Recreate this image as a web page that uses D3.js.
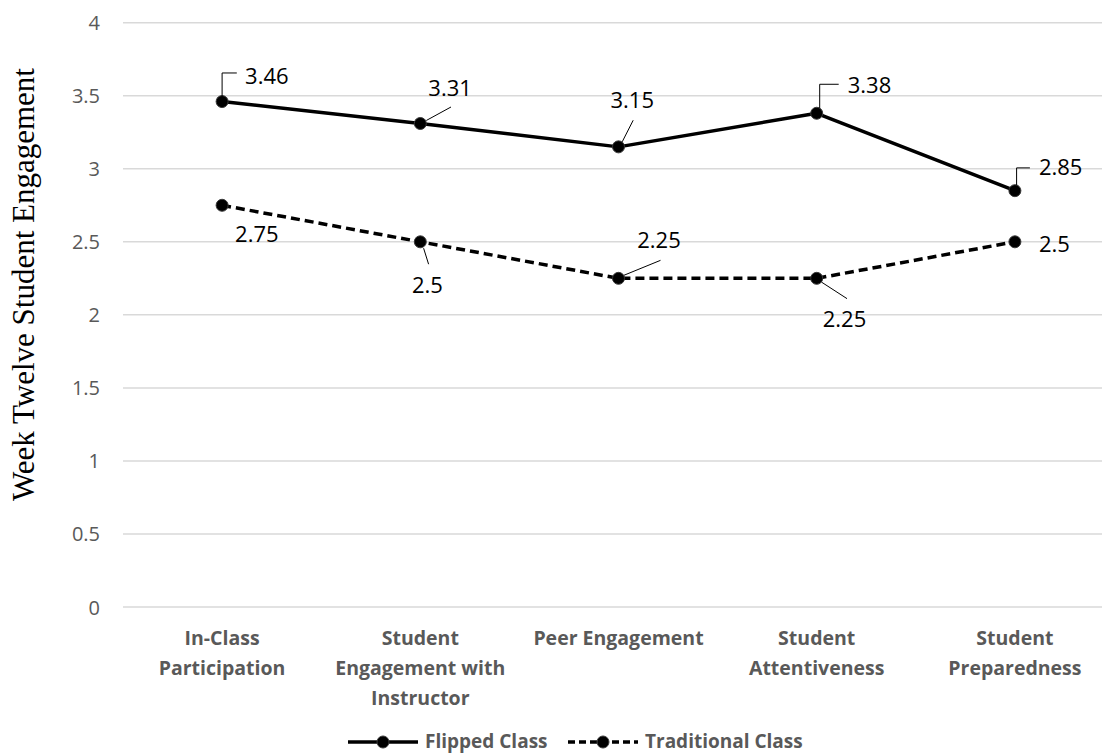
<!DOCTYPE html>
<html><head><meta charset="utf-8">
<script src="https://cdn.jsdelivr.net/npm/d3@7"></script>
<style>body{margin:0;background:#fff}svg{display:block}</style>
</head><body>
<svg id="chart" width="1102" height="755"></svg>
<script>
const categories = [["In-Class","Participation"],["Student","Engagement with","Instructor"],["Peer Engagement"],["Student","Attentiveness"],["Student","Preparedness"]];
const flipped = [3.46, 3.31, 3.15, 3.38, 2.85];
const traditional = [2.75, 2.5, 2.25, 2.25, 2.5];
const yTicks = [0, 0.5, 1, 1.5, 2, 2.5, 3, 3.5, 4];
const seriesNames = ["Flipped Class", "Traditional Class"];
const yTitle = "Week Twelve Student Engagement";

// label layout (offsets from the point), kept apart from the data
const flippedLabelLayout = [
  {dx:23, dy:-18, leader:[[0,-5],[0,-28.6],[14.7,-28.6]]},
  {dx:8, dy:-27, leader:[[6,-3],[30.7,-16.5]]},
  {dx:-8, dy:-38.6, leader:[[3.7,-5],[14.7,-26.6]]},
  {dx:31, dy:-20, leader:[[3,-5],[3,-29],[22,-29]]},
  {dx:24, dy:-15.5, leader:[[1.7,-5.5],[1.7,-22.8],[15,-22.8]]}
];
const tradLabelLayout = [
  {dx:13, dy:36.7, leader:null},
  {dx:-8.3, dy:51.4, leader:[[3.3,6.4],[8.3,22.4]]},
  {dx:18.7, dy:-30, leader:[[5.3,-3],[42,-18]]},
  {dx:6, dy:48.7, leader:[[4.7,3.7],[30.3,20.3]]},
  {dx:24, dy:10, leader:null}
];

const svg = d3.select("#chart");
const x = d3.scaleBand().domain(d3.range(categories.length)).range([123, 1114]);
const y = d3.scaleLinear().domain([0, 4]).range([607, 22.7]);
const cx = i => x(i) + x.bandwidth()/2;

// gridlines
svg.append("g").selectAll("line").data(yTicks).join("line")
  .attr("x1", 123).attr("x2", 1114)
  .attr("y1", d => y(d)).attr("y2", d => y(d))
  .attr("stroke", "#d9d9d9").attr("stroke-width", 1.5);

// y axis tick labels via axis
const yAxis = d3.axisLeft(y).tickValues(yTicks).tickFormat(d3.format("")).tickSize(0).tickPadding(0);
const gy = svg.append("g").attr("transform", "translate(100,0)").call(yAxis);
gy.select(".domain").remove();
gy.selectAll("text").attr("font-family", "'Open Sans', sans-serif").attr("font-size", 20)
  .attr("fill", "#595959").attr("text-anchor", "end").attr("dy", "0.35em");

// category labels
const gx = svg.append("g");
categories.forEach((lines, i) => {
  const t = gx.append("text").attr("text-anchor", "middle")
    .attr("font-family", "'Open Sans', sans-serif").attr("font-weight", "bold")
    .attr("font-size", 19.5).attr("fill", "#595959");
  lines.forEach((ln, j) => t.append("tspan").attr("x", cx(i)).attr("y", 645 + j*30).text(ln));
});

// y title
svg.append("text").attr("transform", "translate(34,284.5) rotate(-90)")
  .attr("text-anchor", "middle").attr("font-family", "'Liberation Serif', 'Times New Roman', serif")
  .attr("font-size", 31).attr("fill", "#000").text(yTitle);

const line = d3.line().x((d, i) => cx(i)).y(d => y(d));
function drawSeries(vals, dash, layout) {
  const g = svg.append("g");
  g.append("path").datum(vals).attr("d", line).attr("fill", "none")
    .attr("stroke", "#000").attr("stroke-width", 3.5)
    .attr("stroke-dasharray", dash).attr("stroke-linejoin", "round");
  g.selectAll("circle").data(vals).join("circle")
    .attr("cx", (d, i) => cx(i)).attr("cy", d => y(d)).attr("r", 6)
    .attr("fill", "#000").attr("stroke", "#3a3a3a").attr("stroke-width", 1);
  vals.forEach((v, i) => {
    const px = cx(i), py = y(v), L = layout[i];
    if (L.leader) {
      g.append("polyline").attr("points", L.leader.map(p => [px + p[0], py + p[1]].join(",")).join(" "))
        .attr("fill", "none").attr("stroke", "#000").attr("stroke-width", 1);
    }
    g.append("text").attr("x", px + L.dx).attr("y", py + L.dy)
      .attr("font-family", "'Open Sans', sans-serif").attr("font-size", 22)
      .attr("fill", "#000").text(String(v));
  });
}
drawSeries(flipped, null, flippedLabelLayout);
drawSeries(traditional, "9,5", tradLabelLayout);

// legend
const legend = svg.append("g");
const legendItems = [
  {name: seriesNames[0], dash: null, x0: 348},
  {name: seriesNames[1], dash: "7,4", x0: 568}
];
legendItems.forEach(it => {
  legend.append("line").attr("x1", it.x0).attr("x2", it.x0 + 70).attr("y1", 742).attr("y2", 742)
    .attr("stroke", "#000").attr("stroke-width", 3.5).attr("stroke-dasharray", it.dash);
  legend.append("circle").attr("cx", it.x0 + 35).attr("cy", 742).attr("r", 6)
    .attr("fill", "#000").attr("stroke", "#3a3a3a").attr("stroke-width", 1);
  legend.append("text").attr("x", it.x0 + 77).attr("y", 748)
    .attr("font-family", "'Open Sans', sans-serif").attr("font-weight", "bold")
    .attr("font-size", 19).attr("fill", "#595959").text(it.name);
});
</script>
</body></html>
